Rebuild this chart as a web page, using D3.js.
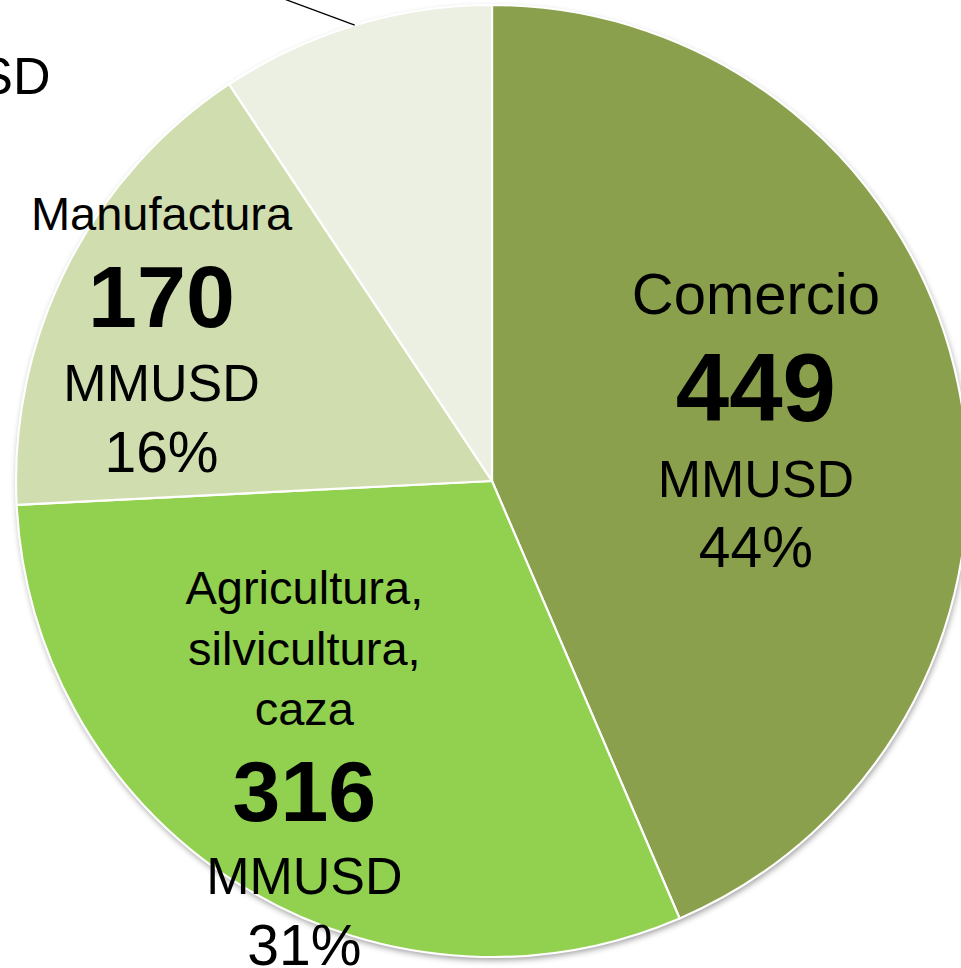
<!DOCTYPE html>
<html>
<head>
<meta charset="utf-8">
<script src="https://cdn.jsdelivr.net/npm/d3@7"></script>
<style>
  body { margin: 0; background: #fff; }
  svg { display: block; font-family: "Liberation Sans", Arial, sans-serif; }
</style>
</head>
<body>
<div id="chart"></div>
<script>
// data (MMUSD)
const sectors = ['Comercio', 'Agricultura, silvicultura, caza', 'Manufactura', 'Otros'];
const nameLines = [['Comercio'], ['Agricultura,', 'silvicultura,', 'caza'], ['Manufactura'], ['Otros']];
const values = [449, 316, 170, 96];
const unit = 'MMUSD';
const colors = ['#8aa04c', '#92d050', '#d0ddae', '#ecf0e2'];

const width = 961;
const height = 968;
const cx = 492;
const cy = 481;
const radius = 476;

// label placement per slice: fraction of radius and angle (degrees, clockwise from top)
const labelLayout = [
  { k: 0.569, angle: 77, nameSize: 58, numSize: 96 },
  { k: 0.72, angle: 213.2, nameSize: 47, numSize: 86 },
  { k: 0.76, angle: 294, nameSize: 47, numSize: 88 },
  { k: 1.48, angle: 310, nameSize: 47, numSize: 86, outside: true },
];
const unitSize = 52;
const pctSize = 57;

const total = d3.sum(values);
const data = values.map((v, i) => ({
  name: sectors[i],
  lines: nameLines[i],
  value: v,
  pct: Math.round((v / total) * 100),
  color: colors[i],
  layout: labelLayout[i],
}));

const svg = d3
  .select('#chart')
  .append('svg')
  .attr('width', width)
  .attr('height', height);

const defs = svg.append('defs');
defs
  .append('filter')
  .attr('id', 'shadow')
  .attr('x', '-10%')
  .attr('y', '-10%')
  .attr('width', '120%')
  .attr('height', '120%')
  .append('feDropShadow')
  .attr('dx', 1)
  .attr('dy', 3)
  .attr('stdDeviation', 3)
  .attr('flood-color', '#000')
  .attr('flood-opacity', 0.4);

const g = svg.append('g').attr('transform', `translate(${cx}, ${cy})`);

const pie = d3
  .pie()
  .sort(null)
  .value((d) => d.value);
const arcs = pie(data);

const arc = d3.arc().innerRadius(0).outerRadius(radius);

g.append('circle')
  .attr('r', radius)
  .attr('fill', '#fff')
  .attr('filter', 'url(#shadow)');

g.selectAll('path.slice')
  .data(arcs)
  .join('path')
  .attr('class', 'slice')
  .attr('d', arc)
  .attr('fill', (d) => d.data.color)
  .attr('stroke', '#fff')
  .attr('stroke-width', 2.2)
  .attr('stroke-linejoin', 'round');

const polar = (angleDeg, r) => {
  const a = (angleDeg * Math.PI) / 180;
  return [r * Math.sin(a), -r * Math.cos(a)];
};

// leader line for the small outside label
arcs
  .filter((d) => d.data.layout.outside)
  .forEach((d) => {
    const mid = (((d.startAngle + d.endAngle) / 2) * 180) / Math.PI;
    const [x0, y0] = polar(mid, radius);
    g.append('line')
      .attr('x1', x0)
      .attr('y1', y0)
      .attr('x2', x0 - 200)
      .attr('y2', y0 - 200 * (26 / 70))
      .attr('stroke', '#000')
      .attr('stroke-width', 1.3);
  });

// line list for each label, with baseline gaps from font metrics
function labelLines(d) {
  const L = d.data.layout;
  const lines = d.data.lines.map((t) => ({ text: t, size: L.nameSize, bold: false }));
  lines.push({ text: String(d.data.value), size: L.numSize, bold: true });
  lines.push({ text: unit, size: unitSize, bold: false });
  lines.push({ text: d.data.pct + '%', size: pctSize, bold: false });
  let y = 0;
  lines.forEach((ln, i) => {
    if (i > 0) y += 0.212 * lines[i - 1].size + 0.905 * ln.size + 8;
    ln.y = y;
  });
  return lines;
}

const labels = g
  .selectAll('g.label')
  .data(arcs)
  .join('g')
  .attr('class', 'label')
  .attr('transform', (d) => {
    const L = d.data.layout;
    const [x, y] = polar(L.angle, radius * L.k);
    const lines = labelLines(d);
    const top = -0.716 * lines[0].size;
    const bottom = lines[lines.length - 1].y;
    return `translate(${x}, ${y - (top + bottom) / 2})`;
  });

labels
  .selectAll('text')
  .data((d) => labelLines(d))
  .join('text')
  .attr('x', 0)
  .attr('y', (d) => d.y)
  .attr('text-anchor', 'middle')
  .attr('font-size', (d) => d.size)
  .attr('font-weight', (d) => (d.bold ? 'bold' : 'normal'))
  .attr('fill', '#000')
  .text((d) => d.text);
</script>
</body>
</html>
